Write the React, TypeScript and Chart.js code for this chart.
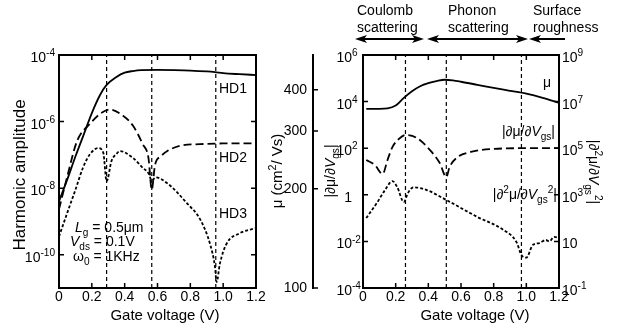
import React, { useEffect, useRef } from 'react';
import { Chart, registerables } from 'chart.js';

Chart.register(...registerables);

const FAMILY = '"Liberation Sans", Arial, Helvetica, sans-serif';

// ---------------- Left panel data ----------------
const xTicks = [0, 0.2, 0.4, 0.6, 0.8, 1.0, 1.2];
const leftYTicks = [1e-10, 1e-8, 1e-6, 1e-4];
const leftMarkers = [0.29, 0.565, 0.955];

const hd1X = [0, 0.05, 0.1, 0.15, 0.2, 0.25, 0.29, 0.35, 0.4, 0.45, 0.5, 0.6, 0.7, 0.8, 0.9, 0.95, 1.0, 1.1, 1.2];
const hd1 = [4.0e-9, 1.8e-8, 8.9e-8, 4.0e-7, 1.8e-6, 6.3e-6, 1.26e-5, 2.2e-5, 2.95e-5, 3.3e-5, 3.5e-5, 3.55e-5, 3.5e-5, 3.4e-5, 3.2e-5, 3.05e-5, 2.85e-5, 2.65e-5, 2.5e-5];

const hd2X = [0, 0.05, 0.11, 0.19, 0.25, 0.31, 0.39, 0.45, 0.51, 0.545, 0.565, 0.585, 0.62, 0.66, 0.74, 0.86, 1.0, 1.2];
const hd2 = [2.3e-9, 2.2e-8, 2.6e-7, 8.7e-7, 1.7e-6, 2.3e-6, 1.5e-6, 7.6e-7, 2.1e-7, 8e-8, 9e-9, 5e-8, 9e-8, 1.3e-7, 1.9e-7, 2.1e-7, 2.2e-7, 2.2e-7];

const hd3X = [0, 0.05, 0.1, 0.146, 0.19, 0.24, 0.27, 0.29, 0.32, 0.35, 0.37, 0.45, 0.51, 0.545, 0.565, 0.59, 0.66, 0.78, 0.86, 0.92, 0.95, 0.96, 0.98, 1.02, 1.1, 1.2];
const hd3 = [3.5e-10, 1.8e-9, 8.9e-9, 4.1e-8, 1.07e-7, 1.6e-7, 1.15e-7, 1.6e-8, 6.6e-8, 1.07e-7, 1.3e-7, 8.1e-8, 4.1e-8, 2.8e-8, 1.7e-8, 2.1e-8, 1.4e-8, 3.5e-9, 1.15e-9, 2.1e-10, 4.4e-11, 1.5e-11, 5.4e-11, 2.1e-10, 4.4e-10, 6.3e-10];

// ---------------- Right panel data ----------------
const rightYTicksL = [1e-4, 1e-2, 1, 1e2, 1e4, 1e6];
const rightYTicksR = [1e-1, 10, 1e3, 1e5, 1e7, 1e9];
const muTicks = [100, 200, 300, 400];
const rightMarkers = [0.26, 0.51, 0.97];

const muX = [0.02, 0.05, 0.1, 0.15, 0.2, 0.25, 0.3, 0.35, 0.4, 0.45, 0.5, 0.55, 0.6, 0.7, 0.8, 0.9, 1.0, 1.1, 1.2];
const mu = [350, 350, 350, 351, 358, 378, 396, 410, 419, 425, 429, 427, 423, 414, 405, 397, 389, 378, 365];

const dmuX = [0.02, 0.073, 0.12, 0.15, 0.18, 0.22, 0.26, 0.33, 0.41, 0.47, 0.51, 0.53, 0.58, 0.66, 0.8, 1.0, 1.2];
const dmu = [31, 19, 7.8, 31, 112, 250, 370, 275, 83, 23, 5.8, 15.5, 42, 69, 93, 100, 100];

const d2muX = [0.02, 0.085, 0.135, 0.18, 0.21, 0.25, 0.275, 0.31, 0.39, 0.51, 0.7, 0.86, 0.94, 0.97, 1.0, 1.04, 1.08, 1.12, 1.14, 1.17, 1.2];
const d2mu = [100, 450, 1600, 3900, 2100, 490, 1200, 2100, 1600, 600, 112, 31, 9.3, 2.6, 2.0, 7.1, 8.5, 11.5, 10, 15.5, 14];

// ---------------- helpers ----------------
type Seg = { t: string; s?: 'sup' | 'sub'; i?: boolean };

const fontStr = (size: number, italic?: boolean) => `${italic ? 'italic ' : ''}${size}px ${FAMILY}`;
const segSize = (g: Seg, size: number) => (g.s ? size * 0.72 : size);

function richWidth(ctx: CanvasRenderingContext2D, segs: Seg[], size: number) {
  let w = 0;
  for (const g of segs) {
    ctx.font = fontStr(segSize(g, size), g.i);
    w += ctx.measureText(g.t).width;
  }
  return w;
}

function drawRich(ctx: CanvasRenderingContext2D, segs: Seg[], x: number, y: number, size: number, align: 'left' | 'right' | 'center' = 'left') {
  const w = richWidth(ctx, segs, size);
  let cx = align === 'left' ? x : align === 'right' ? x - w : x - w / 2;
  ctx.textAlign = 'left';
  ctx.textBaseline = 'alphabetic';
  for (const g of segs) {
    ctx.font = fontStr(segSize(g, size), g.i);
    const dy = g.s === 'sup' ? -size * 0.42 : g.s === 'sub' ? size * 0.28 : 0;
    ctx.fillText(g.t, cx, y + dy);
    cx += ctx.measureText(g.t).width;
  }
}

function drawRotated(ctx: CanvasRenderingContext2D, segs: Seg[], cx: number, cy: number, size: number, angle: number) {
  ctx.save();
  ctx.translate(cx, cy);
  ctx.rotate(angle);
  drawRich(ctx, segs, 0, size * 0.35, size, 'center');
  ctx.restore();
}

function expSegs(v: number): Seg[] {
  const e = Math.round(Math.log10(v));
  if (e === 0) return [{ t: '1' }];
  if (e === 1) return [{ t: '10' }];
  return [{ t: '10' }, { t: String(e), s: 'sup' }];
}

function arrowHead(ctx: CanvasRenderingContext2D, x: number, y: number, dir: number) {
  ctx.beginPath();
  ctx.moveTo(x, y);
  ctx.lineTo(x - dir * 12, y - 4);
  ctx.lineTo(x - dir * 9, y);
  ctx.lineTo(x - dir * 12, y + 4);
  ctx.closePath();
  ctx.fill();
}

const pts = (xs: number[], ys: number[]) => xs.map((x, i) => ({ x, y: ys[i] }));

function markerSets(xs: number[], yMin: number, yMax: number, axis: string) {
  return xs.map((x) => ({
    data: [{ x, y: yMin }, { x, y: yMax }],
    borderColor: '#000',
    borderWidth: 1.2,
    borderDash: [4, 3],
    pointRadius: 0,
    yAxisID: axis,
  }));
}

const curve = (data: any[], dash: number[], axis: string) => ({
  data,
  borderColor: '#000',
  borderWidth: 1.8,
  borderDash: dash,
  pointRadius: 0,
  cubicInterpolationMode: 'monotone' as const,
  yAxisID: axis,
});

const tickFont = { family: FAMILY, size: 14 };
const noGrid = { display: false, drawTicks: false };

const xScale = {
  type: 'linear' as const,
  min: 0,
  max: 1.2,
  position: 'bottom' as const,
  grid: noGrid,
  border: { display: false },
  ticks: {
    font: tickFont,
    color: '#000',
    padding: 1,
    autoSkip: false,
    maxRotation: 0,
    callback: (v: any) => (Number(v) === 0 ? '0' : Number(v).toFixed(1)),
  },
  afterBuildTicks: (s: any) => {
    s.ticks = xTicks.map((v) => ({ value: v }));
  },
  afterFit: (s: any) => {
    s.height = 47;
  },
};

// ---------------- plugins ----------------
const leftDecor = {
  id: 'leftDecor',
  afterDraw(chart: any) {
    const { ctx, chartArea: a, scales } = chart;
    const x = scales.x;
    const y = scales.y;
    ctx.save();
    ctx.fillStyle = '#000';
    ctx.strokeStyle = '#000';
    ctx.setLineDash([]);
    ctx.lineWidth = 2;
    ctx.strokeRect(a.left, a.top, a.right - a.left, a.bottom - a.top);
    ctx.lineWidth = 1.5;
    ctx.beginPath();
    for (const v of xTicks) {
      const px = x.getPixelForValue(v);
      ctx.moveTo(px, a.bottom);
      ctx.lineTo(px, a.bottom - 5);
      ctx.moveTo(px, a.top);
      ctx.lineTo(px, a.top + 5);
    }
    for (const v of leftYTicks) {
      const py = y.getPixelForValue(v);
      ctx.moveTo(a.left, py);
      ctx.lineTo(a.left + 5, py);
      ctx.moveTo(a.right, py);
      ctx.lineTo(a.right - 5, py);
    }
    ctx.stroke();
    for (const v of leftYTicks) {
      drawRich(ctx, expSegs(v), a.left - 4, y.getPixelForValue(v) + 7, 14, 'right');
    }
    drawRich(ctx, [{ t: 'Gate voltage (V)' }], 165, 320, 15, 'center');
    drawRotated(ctx, [{ t: 'Harmonic amplitude' }], 19.5, 175, 17, -Math.PI / 2);
    drawRich(ctx, [{ t: 'HD1' }], 219, 93, 14);
    drawRich(ctx, [{ t: 'HD2' }], 219, 162, 14);
    drawRich(ctx, [{ t: 'HD3' }], 219, 218, 14);
    drawRich(ctx, [{ t: 'L', i: true }, { t: 'g', s: 'sub' }, { t: ' = 0.5μm' }], 75, 232, 14);
    drawRich(ctx, [{ t: 'V', i: true }, { t: 'ds', s: 'sub' }, { t: ' = 0.1V' }], 70, 246, 14);
    drawRich(ctx, [{ t: 'ω' }, { t: '0', s: 'sub' }, { t: ' = 1KHz' }], 73, 261, 14);
    ctx.restore();
  },
};

const rightDecor = {
  id: 'rightDecor',
  afterDraw(chart: any) {
    const { ctx, chartArea: a, scales } = chart;
    const x = scales.x;
    const yL = scales.y;
    const yR = scales.yR;
    const yMu = scales.yMu;
    ctx.save();
    ctx.fillStyle = '#000';
    ctx.strokeStyle = '#000';
    ctx.setLineDash([]);
    ctx.lineWidth = 2;
    ctx.strokeRect(a.left, a.top, a.right - a.left, a.bottom - a.top);
    ctx.lineWidth = 1.5;
    ctx.beginPath();
    for (const v of xTicks) {
      const px = x.getPixelForValue(v);
      ctx.moveTo(px, a.bottom);
      ctx.lineTo(px, a.bottom - 5);
      ctx.moveTo(px, a.top);
      ctx.lineTo(px, a.top + 5);
    }
    for (const v of rightYTicksL) {
      const py = yL.getPixelForValue(v);
      ctx.moveTo(a.left, py);
      ctx.lineTo(a.left + 5, py);
    }
    for (const v of rightYTicksR) {
      const py = yR.getPixelForValue(v);
      ctx.moveTo(a.right, py);
      ctx.lineTo(a.right - 5, py);
    }
    const muLine = yMu.right;
    for (const v of muTicks) {
      const py = yMu.getPixelForValue(v);
      ctx.moveTo(muLine, py);
      ctx.lineTo(muLine + 5, py);
    }
    ctx.stroke();

    for (const v of rightYTicksL) {
      const segs = expSegs(v);
      ctx.font = fontStr(14);
      const baseW = ctx.measureText(segs[0].t).width;
      drawRich(ctx, segs, a.left - 11 - baseW, yL.getPixelForValue(v) + 7, 14, 'left');
    }
    for (const v of rightYTicksR) {
      drawRich(ctx, expSegs(v), a.right + 3, yR.getPixelForValue(v) + 7, 14, 'left');
    }

    drawRich(ctx, [{ t: 'Gate voltage (V)' }], 210, 320, 15, 'center');
    drawRotated(ctx, [{ t: 'μ (cm' }, { t: '2', s: 'sup' }, { t: '/ Vs)' }], 12, 171, 15, -Math.PI / 2);
    drawRotated(ctx, [{ t: '|∂μ/∂' }, { t: 'V', i: true }, { t: 'gs', s: 'sub' }, { t: '|' }], 65, 171, 14, -Math.PI / 2);
    drawRotated(ctx, [{ t: '|∂' }, { t: '2', s: 'sup' }, { t: 'μ/∂' }, { t: 'V', i: true }, { t: 'gs', s: 'sub' }, { t: '2', s: 'sup' }, { t: '|' }], 329, 172, 14, Math.PI / 2);

    drawRich(ctx, [{ t: 'μ' }], 278, 87, 14);
    drawRich(ctx, [{ t: '|∂μ/∂' }, { t: 'V', i: true }, { t: 'gs', s: 'sub' }, { t: '|' }], 290, 136, 14, 'right');
    drawRich(ctx, [{ t: '|∂' }, { t: '2', s: 'sup' }, { t: 'μ/∂' }, { t: 'V', i: true }, { t: 'gs', s: 'sub' }, { t: '2', s: 'sup' }, { t: '|' }], 292, 199, 14, 'right');

    drawRich(ctx, [{ t: 'Coulomb' }], 92, 15, 14);
    drawRich(ctx, [{ t: 'scattering' }], 92, 32, 14);
    drawRich(ctx, [{ t: 'Phonon' }], 183, 15, 14);
    drawRich(ctx, [{ t: 'scattering' }], 183, 32, 14);
    drawRich(ctx, [{ t: 'Surface' }], 268, 15, 14);
    drawRich(ctx, [{ t: 'roughness' }], 268, 32, 14);

    const ay = 39;
    ctx.lineWidth = 2;
    ctx.beginPath();
    ctx.moveTo(94, ay); ctx.lineTo(155, ay);
    ctx.moveTo(166, ay); ctx.lineTo(259, ay);
    ctx.moveTo(268, ay); ctx.lineTo(300, ay);
    ctx.stroke();
    arrowHead(ctx, 90, ay, -1);
    arrowHead(ctx, 159, ay, 1);
    arrowHead(ctx, 162, ay, -1);
    arrowHead(ctx, 263, ay, 1);
    arrowHead(ctx, 264, ay, -1);
    ctx.restore();
  },
};

// ---------------- configs ----------------
function leftConfig(): any {
  return {
    type: 'line',
    data: {
      datasets: [
        ...markerSets(leftMarkers, 1e-11, 1e-4, 'y'),
        curve(pts(hd1X, hd1), [], 'y'),
        curve(pts(hd2X, hd2), [8, 4], 'y'),
        curve(pts(hd3X, hd3), [3, 2], 'y'),
      ],
    },
    options: {
      animation: false,
      responsive: false,
      devicePixelRatio: 1,
      layout: { padding: { top: 55, right: 44, left: 0, bottom: 0 } },
      plugins: { legend: { display: false }, tooltip: { enabled: false } },
      scales: {
        x: xScale,
        y: {
          type: 'logarithmic',
          position: 'left',
          min: 1e-11,
          max: 1e-4,
          grid: noGrid,
          border: { display: false },
          ticks: { display: false },
          afterBuildTicks: (s: any) => {
            s.ticks = leftYTicks.map((v) => ({ value: v }));
          },
          afterFit: (s: any) => {
            s.width = 59;
          },
        },
      },
    },
    plugins: [leftDecor],
  };
}

function rightConfig(): any {
  return {
    type: 'line',
    data: {
      datasets: [
        ...markerSets(rightMarkers, 1e-4, 1e6, 'y'),
        curve(pts(muX, mu), [], 'yMu'),
        curve(pts(dmuX, dmu), [8, 4], 'y'),
        curve(pts(d2muX, d2mu), [3, 2], 'yR'),
      ],
    },
    options: {
      animation: false,
      responsive: false,
      devicePixelRatio: 1,
      layout: { padding: { top: 55, right: 0, left: 0, bottom: 0 } },
      plugins: { legend: { display: false }, tooltip: { enabled: false } },
      scales: {
        x: xScale,
        y: {
          type: 'logarithmic',
          position: 'left',
          weight: 0,
          min: 1e-4,
          max: 1e6,
          grid: noGrid,
          border: { display: false },
          ticks: { display: false },
          afterBuildTicks: (s: any) => {
            s.ticks = rightYTicksL.map((v) => ({ value: v }));
          },
          afterFit: (s: any) => {
            s.width = 50;
          },
        },
        yMu: {
          type: 'logarithmic',
          position: 'left',
          weight: 1,
          min: 100,
          max: 510,
          grid: noGrid,
          border: { display: true, color: '#000', width: 2 },
          ticks: { font: tickFont, color: '#000', padding: 6, callback: (v: any) => String(v) },
          afterBuildTicks: (s: any) => {
            s.ticks = muTicks.map((v) => ({ value: v }));
          },
          afterFit: (s: any) => {
            s.width = 48;
          },
        },
        yR: {
          type: 'logarithmic',
          position: 'right',
          min: 0.1,
          max: 1e9,
          grid: noGrid,
          border: { display: false },
          ticks: { display: false },
          afterBuildTicks: (s: any) => {
            s.ticks = rightYTicksR.map((v) => ({ value: v }));
          },
          afterFit: (s: any) => {
            s.width = 58;
          },
        },
      },
    },
    plugins: [rightDecor],
  };
}

export default function App() {
  const leftRef = useRef<HTMLCanvasElement>(null);
  const rightRef = useRef<HTMLCanvasElement>(null);

  useEffect(() => {
    const c1 = new Chart(leftRef.current as HTMLCanvasElement, leftConfig());
    const c2 = new Chart(rightRef.current as HTMLCanvasElement, rightConfig());
    return () => {
      c1.destroy();
      c2.destroy();
    };
  }, []);

  return (
    <div style={{ position: 'absolute', left: 0, top: 0, width: 617, height: 335, background: '#fff', overflow: 'hidden' }}>
      <canvas ref={leftRef} width={300} height={335} style={{ position: 'absolute', left: 0, top: 0 }} />
      <canvas ref={rightRef} width={352} height={335} style={{ position: 'absolute', left: 265, top: 0 }} />
    </div>
  );
}
